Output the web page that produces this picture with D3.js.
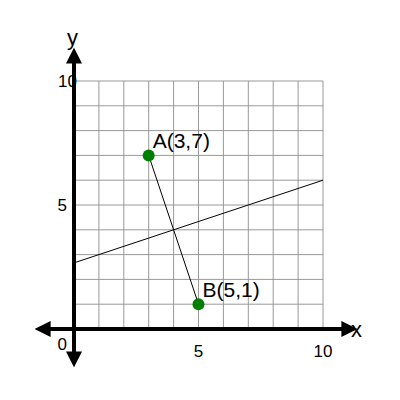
<!DOCTYPE html>
<html><head><meta charset="utf-8">
<script src="https://cdn.jsdelivr.net/npm/d3@7.9.0/dist/d3.min.js"></script>
<style>body{margin:0;background:#fff}text{font-family:"Liberation Sans",Arial,sans-serif}</style>
</head><body><svg width="400" height="400"></svg>
<script>
const gridVals = d3.range(0, 11);
const points = [{label: "A(3,7)", x: 3, y: 7}, {label: "B(5,1)", x: 5, y: 1}];
const bisector = [[0, 8 / 3], [10, 6]];
const xTicks = [5, 10];
const yTicks = [5, 10];

const svg = d3.select("svg");
const x = d3.scaleLinear().domain([0, 10]).range([74, 323]);
const y = d3.scaleLinear().domain([0, 10]).range([329, 81]);

svg.append("defs").append("marker").attr("id", "ar")
  .attr("viewBox", "0 0 10 10").attr("refX", 1).attr("refY", 5)
  .attr("markerWidth", 4).attr("markerHeight", 4).attr("orient", "auto-start-reverse")
  .attr("markerUnits", "strokeWidth")
  .append("path").attr("d", "M0,0L10,5L0,10Z").attr("fill", "#000");

const g = svg.append("g");
g.selectAll(".vx").data(gridVals).join("line")
  .attr("x1", d => x(d)).attr("x2", d => x(d)).attr("y1", y(0)).attr("y2", y(10))
  .attr("stroke", "#999").attr("stroke-width", 1);
g.selectAll(".hy").data(gridVals).join("line")
  .attr("y1", d => y(d)).attr("y2", d => y(d)).attr("x1", x(0)).attr("x2", x(10))
  .attr("stroke", "#999").attr("stroke-width", 1);

// axes
svg.append("line").attr("x1", 49).attr("x2", 343).attr("y1", y(0)).attr("y2", y(0))
  .attr("stroke", "#000").attr("stroke-width", 4)
  .attr("marker-start", "url(#ar)").attr("marker-end", "url(#ar)");
svg.append("line").attr("x1", x(0)).attr("x2", x(0)).attr("y1", 353).attr("y2", 62)
  .attr("stroke", "#000").attr("stroke-width", 4)
  .attr("marker-start", "url(#ar)").attr("marker-end", "url(#ar)");

svg.append("text").attr("x", 351).attr("y", 337).attr("font-size", 22).text("x");
svg.append("text").attr("x", 67).attr("y", 45).attr("font-size", 22).text("y");

svg.selectAll(".xt").data(xTicks).join("text")
  .attr("x", d => x(d)).attr("y", 357).attr("text-anchor", "middle").attr("font-size", 17).text(d => d);
svg.selectAll(".yt").data(yTicks).join("text")
  .attr("x", d => d === 10 ? 77 : 67).attr("y", d => y(d) + 6).attr("text-anchor", "end").attr("font-size", 17).text(d => d);
svg.append("text").attr("x", 67).attr("y", 350).attr("text-anchor", "end").attr("font-size", 17).text("0");

svg.append("line").attr("x1", x(bisector[0][0])).attr("y1", y(bisector[0][1]))
  .attr("x2", x(bisector[1][0])).attr("y2", y(bisector[1][1])).attr("stroke", "#000");
svg.append("line").attr("x1", x(points[0].x)).attr("y1", y(points[0].y))
  .attr("x2", x(points[1].x)).attr("y2", y(points[1].y)).attr("stroke", "#000");

svg.selectAll(".pt").data(points).join("circle")
  .attr("cx", d => x(d.x)).attr("cy", d => y(d.y)).attr("r", 6).attr("fill", "#008000");
svg.selectAll(".pl").data(points).join("text")
  .attr("x", d => x(d.x) + 4).attr("y", d => y(d.y) - 7).attr("font-size", 21).text(d => d.label);
</script></body></html>
